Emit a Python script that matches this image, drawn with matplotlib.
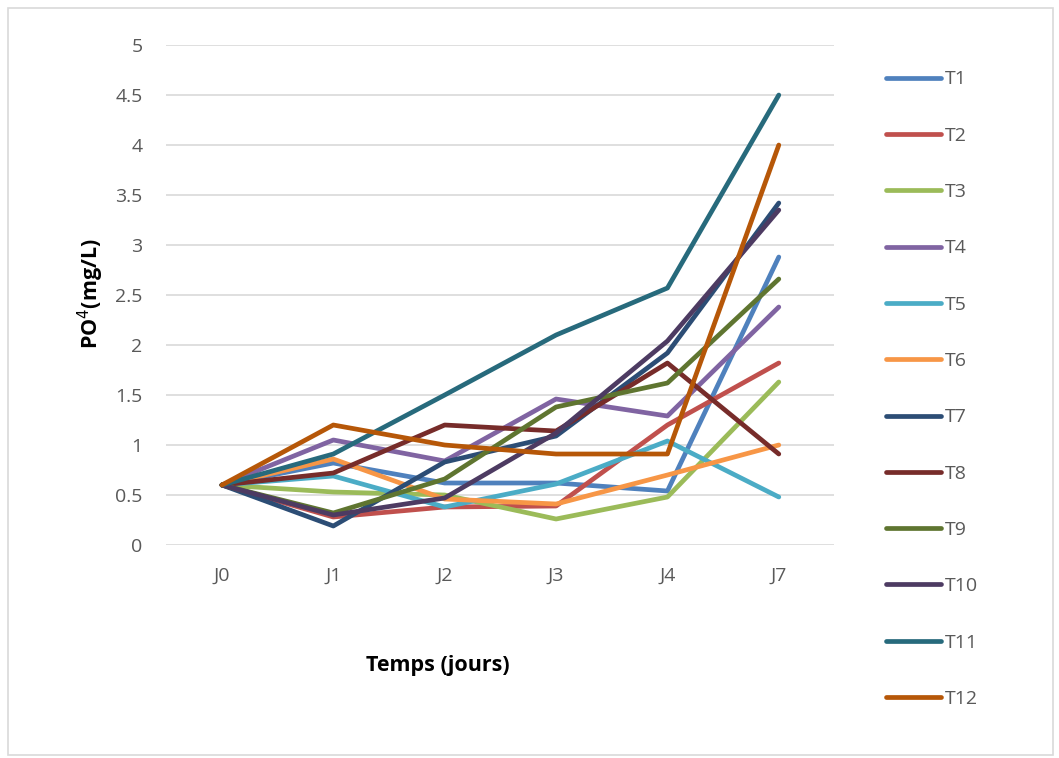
import matplotlib.pyplot as plt
from matplotlib.patches import Rectangle

# Jours de prélèvement et concentrations en PO4 (mg/L) par traitement
jours = ["J0", "J1", "J2", "J3", "J4", "J7"]

T1 = [0.6, 0.82, 0.62, 0.62, 0.54, 2.88]
T2 = [0.6, 0.28, 0.38, 0.39, 1.20, 1.82]
T3 = [0.6, 0.53, 0.50, 0.26, 0.48, 1.63]
T4 = [0.6, 1.05, 0.84, 1.46, 1.29, 2.38]
T5 = [0.6, 0.69, 0.38, 0.61, 1.04, 0.48]
T6 = [0.6, 0.86, 0.46, 0.41, 0.70, 1.00]
T7 = [0.6, 0.19, 0.83, 1.09, 1.92, 3.42]
T8 = [0.6, 0.72, 1.20, 1.14, 1.82, 0.91]
T9 = [0.6, 0.32, 0.66, 1.38, 1.62, 2.66]
T10 = [0.6, 0.30, 0.47, 1.12, 2.04, 3.35]
T11 = [0.6, 0.91, 1.50, 2.10, 2.57, 4.50]
T12 = [0.6, 1.20, 1.00, 0.91, 0.91, 4.00]

noms = ["T1", "T2", "T3", "T4", "T5", "T6", "T7", "T8", "T9", "T10", "T11", "T12"]
series = [T1, T2, T3, T4, T5, T6, T7, T8, T9, T10, T11, T12]
couleurs = ["#4F81BD", "#C0504D", "#9BBB59", "#8064A2", "#4BACC6", "#F79646",
            "#2C4D75", "#772C2A", "#5F7530", "#4D3B62", "#276A7C", "#B65708"]

plt.rcParams['font.family'] = ['Open Sans', 'DejaVu Sans']

fig = plt.figure(figsize=(10.59, 7.58), dpi=100)
ax = fig.add_axes([0.157, 0.281, 0.631, 0.6596])

# cadre gris autour du graphique
fig.patches.append(Rectangle((8 / 1059, 3 / 758), 1045 / 1059, 747 / 758,
                             transform=fig.transFigure, fill=False,
                             edgecolor="#D9D9D9", linewidth=1.2))

x = range(len(jours))
for nom, y, c in zip(noms, series, couleurs):
    ax.plot(x, y, color=c, linewidth=3.4, label=nom,
            solid_capstyle='round', solid_joinstyle='round')

ax.set_xlim(-0.5, 5.5)
ax.set_ylim(0, 5)
ax.set_yticks([0, 0.5, 1, 1.5, 2, 2.5, 3, 3.5, 4, 4.5, 5])
ax.set_yticklabels(["0", "0.5", "1", "1.5", "2", "2.5", "3", "3.5", "4", "4.5", "5"])
ax.set_xticks(list(x))
ax.set_xticklabels(jours)
ax.tick_params(axis='both', length=0, labelsize=14, labelcolor="#595959")
ax.tick_params(axis='y', pad=17)
ax.tick_params(axis='x', pad=16)
ax.grid(axis='y', color="#D9D9D9", linewidth=1.2)
ax.set_axisbelow(True)
for s in ax.spines.values():
    s.set_visible(False)

# titres des axes
fig.text(91 / 1059, 1 - 294 / 758, "PO$^4$(mg/L)", fontsize=15.5,
         fontweight='bold', rotation=90, ha='center', va='center')
fig.text(438 / 1059, 1 - 665 / 758, "Temps (jours)", fontsize=15.5,
         fontweight='bold', ha='center', va='center')

ax.legend(loc='upper left', bbox_to_anchor=(868 / 1059, 1 - 53 / 758),
          bbox_transform=fig.transFigure, frameon=False, fontsize=14,
          handlelength=2.83, handletextpad=0.2, labelspacing=1.97,
          labelcolor="#595959")

fig.savefig("out.png", dpi=100)
